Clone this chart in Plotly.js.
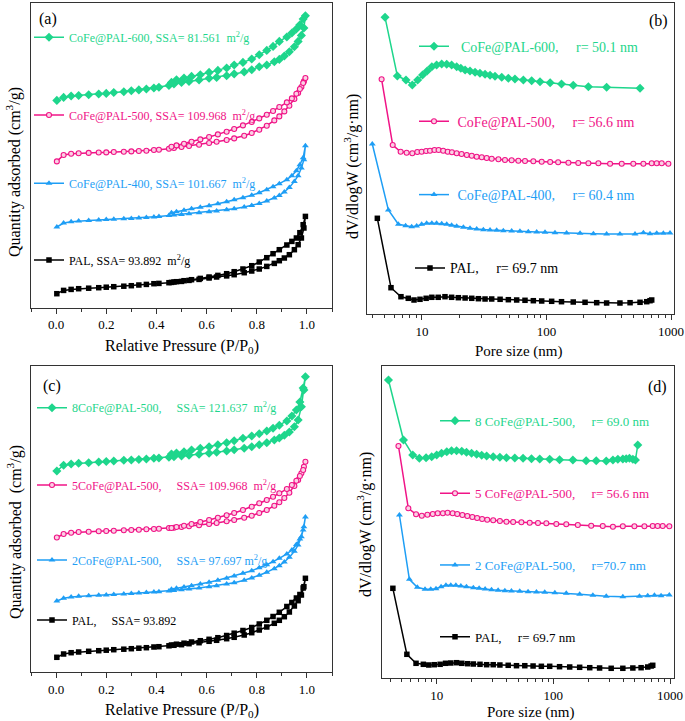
<!DOCTYPE html>
<html>
<head>
<meta charset="utf-8">
<script src="https://cdn.plot.ly/plotly-3.0.1.min.js"></script>
<style>html,body{margin:0;padding:0;background:#fff;}#chart{width:685px;height:721px;}</style>
</head>
<body>
<div id="chart"></div>
<script>
// ---------- DATA ----------
// Isotherm relative pressures (adsorption branch up, desorption branch down)
const adsP = [0.003,0.03,0.06,0.09,0.13,0.17,0.20,0.23,0.27,0.30,0.33,0.36,0.39,0.41,0.45,0.47,0.50,0.53,0.57,0.61,0.64,0.68,0.71,0.75,0.78,0.81,0.84,0.87,0.89,0.91,0.93,0.95,0.965,0.978,0.988,0.994];
const desP = [0.985,0.972,0.958,0.94,0.92,0.89,0.865,0.84,0.81,0.78,0.745,0.71,0.68,0.645,0.61,0.575,0.54,0.51,0.48,0.46];

// Panel (a): quantity adsorbed (offset, arbitrary units)
const a600Ads = [207.3,210.3,211.7,212.2,213,213.7,214.3,215.2,216,217,217.8,218.7,219.7,220.5,222.2,223.7,225.3,226.3,227.8,229.5,230.3,232,233.8,235.8,238,241,242.7,246,248.3,251.7,256,261,266.3,272.3,279.7,292];
const a600Des = [288.7,283,278.7,274.7,270.7,266.3,261.3,257.3,253,248.7,245.3,242.7,239.7,237.3,235.3,233,231.3,229.7,228,225.3];
const a500Ads = [146.3,152.7,154,154.5,154.8,155.2,155.3,155.7,156,156.3,156.7,157,157.7,158,159,159.7,160.7,161.7,163,164.7,166,167.7,169.3,172,174.7,178,182,187.3,191.3,196.3,202,208.7,214.7,220.7,226.3,229.7];
const a500Des = [224.7,218.7,214,209.3,205.3,200.7,196.7,193,189.3,185.7,182.3,178.7,176,173.3,170.7,168.3,166,164,162.3,161];
const a400Ads = [80.7,84.7,86,86.7,87.3,87.8,88.2,88.5,89,89.3,89.8,90.3,90.8,91.3,92.2,92.7,93.3,94,95,96,96.8,98,99,100.7,102.3,104.3,106.7,109.7,112.3,115.7,120.3,126.3,132,139.7,148,162];
const a400Des = [150,143,137,132,128,124,121,118,115,112.5,110,108,106,104,102,100.5,99,97.5,96,95];
const aPalAds = [14,17.3,18.3,19,19.5,20,20.5,21,21.5,22,22.7,23.3,24,24.3,25,25.7,26.3,27.3,28.3,29.7,30.7,31.8,33,35,36.7,38.7,41.3,44.3,47,49.7,53,58,63,69.7,79.7,91.3];
const aPalDes = [83,75,69.7,66.3,62.7,58,54,50,45.7,42,38.7,36,34,32.3,30.7,29.3,28,27,26,25.3];

// Panel (c)
const c8Ads = [201,206.7,208,208.7,209.3,210,210.5,211,211.7,212,212.5,213,213.7,214,214.8,215.3,216,216.7,217.7,218.8,219.7,221,222.2,223.7,225.3,227.3,229.3,232,234,236.7,240,245.3,252,265.3,282,295.3];
const c8Des = [284,270,262,256,251,246.7,243.7,241,238.3,236,233.7,231.3,229.3,227.3,225.3,223.7,222,220.3,219,218];
const c5Ads = [134.5,138,139.3,140,140.3,140.7,141,141.3,141.7,142,142.3,142.7,143,143.3,144,144.3,145,145.7,146.7,148,149,150.7,152,154.3,156.3,159,162,166.3,169.7,174,179.3,186,192,198.7,205.3,210.3];
const c5Des = [202,196,191.3,187,183,178.7,175.3,172,168.7,165.3,162,159,156.7,154.3,152,150,148,146.3,145,144];
const c2Ads = [71,73.7,75,75.7,76.2,76.7,77,77.5,78,78.5,79,79.5,80,80.3,81,81.5,82.2,83,84,85.3,86.3,88,89.3,91.7,94,96.7,99.7,103.3,106.3,110,114.7,120.7,127,135.3,145.3,155];
const c2Des = [142,133,127.5,122,118,113.7,110.3,107.3,104.3,101.3,98.7,96,93.7,91.7,89.7,88,86.3,85,83.7,82.7];
const cPalAds = [14.7,18,19.3,20,20.7,21.3,21.8,22.3,22.8,23.3,23.8,24.3,25,25.3,26.2,26.7,27.3,28.3,29.3,30.7,31.7,33.3,34.7,37,39.3,42,45,48.7,51.7,55.3,60,66,71.3,77,85.3,93.7];
const cPalDes = [84,77.5,74,69.5,65.5,59.7,55.5,51.7,48,44.5,41.5,38.8,36.5,34.3,32.7,31.3,30,28.8,27.8,27];

// Panel (b): pore size distributions (nm, offset dV/dlogW)
const b600X = [5.05,6.34,7.44,8.36,9.23,10.1,11.0,12.0,13.1,14.4,15.8,17.3,19.0,20.5,22.2,24.3,26.7,29.2,32.1,35.2,38.6,43.7,49.4,55.8,65.2,76.0,88.7,107,132,164,217,304,564];
const b600Y = [296.7,238,234,229,234,239,243,247.3,249,250,249.7,249,247.3,245.7,244,243,241.7,240.7,239.7,238.7,237.7,236.7,235.7,235,234,233.3,232.3,231.3,230,228.7,227.3,226.7,225.7];
const b500X = [4.74,5.82,6.74,7.53,8.36,9.17,9.94,10.8,11.6,12.6,13.6,14.8,16.1,17.4,19.0,20.8,22.9,25.1,27.5,30.2,33.1,36.3,41.1,46.4,52.5,59.4,67.2,78.4,91.5,107,124,150,180,217,261,324,402,498,600,700,768,842,952];
const b500Y = [234.7,169,162.3,161.3,160.7,162,162.3,163,163.3,164,164,163.3,162.3,161.7,160.7,160,159,158.3,157.3,156.7,156,155.3,154.7,154,153.7,153.3,153,152.7,152.3,152,151.7,151.3,151,150.7,150.7,150.3,150.3,150.3,150.3,150.7,150.7,150.7,150.3];
const b400X = [3.99,5.37,6.46,7.39,8.26,9.06,9.94,10.9,12.0,13.1,14.4,15.8,17.3,19.0,21.5,24.3,27.5,31.1,35.2,39.8,45.0,52.5,61.2,71.4,83.4,97.3,117,145,186,238,304,389,514,600,678,768,868,982];
const b400Y = [170,104,89.7,88.3,87.3,88,89.7,90.7,90.7,90.7,90.3,89.7,88.7,87.7,86.7,85.7,85,84.3,84,83.7,83.3,83,82.7,82.3,82,81.7,81.3,81,80.7,80.3,80,80,80,81.3,80.3,80.7,80.7,81];
const bPalX = [4.38,5.64,6.78,7.76,8.63,9.64,10.8,12.0,13.5,15.3,17.3,19.6,22.2,25.1,28.4,32.1,36.3,42.4,49.4,57.6,67.2,78.4,91.5,110,132,164,204,253,304,389,469,564,638,678,700];
const bPalY = [95.7,26.3,17.3,15.7,14,14.7,15.7,16.7,16.7,17.3,16.7,16.3,16,15.7,15.3,15,15,14.7,14.3,14,13.7,13.3,13,12.7,12.3,12,11.7,11.3,11,11,11.3,11.7,12.3,13.3,14];

// Panel (d)
const d8X = [3.86,5.19,6.23,7.10,8.11,9.06,10.0,11.0,12.2,13.4,14.8,16.4,18.0,19.9,22.0,24.3,26.8,30.5,34.8,39.6,46.7,55.0,64.9,76.4,93.0,113,147,191,233,284,324,357,394,421,449,480,505,529];
const d8Y = [298,238,223,219.7,220.3,221.3,223,224.7,226.3,227.3,227.3,226.7,225.7,224.7,223.7,222.7,222,221.3,220.7,220.3,220,219.7,219.3,219,218.7,218.3,218,217.3,217.3,217,218,218.7,219,219.3,219.7,218.7,218,233];
const d5X = [4.70,5.71,6.65,7.45,8.32,9.25,10.2,11.3,12.4,13.7,15.0,16.6,18.3,20.2,22.2,24.5,27.1,30.5,34.8,39.6,45.2,53.2,62.7,73.8,87.0,106,129,162,211,265,324,394,495,603,710,783,865,986];
const d5Y = [232,169.7,163.7,162.3,163.3,164,164.7,164.7,165.3,164.7,164,163,162,161,160,159,158.3,157.7,157,156.3,156,155.7,155.3,155,154.7,154,153.7,153,152.3,152,151.3,151.7,151.7,151.7,152,152,152,151.7];
const d2X = [4.79,5.83,6.82,7.94,8.89,9.86,10.9,12.0,13.2,14.6,16.1,18.0,20.6,23.1,26.0,29.5,33.6,38.4,43.7,51.5,60.7,71.6,84.3,103,129,168,218,284,394,547,644,735,838,986];
const d2Y = [163,98.7,90.7,88.7,88.7,89.3,91.3,92.7,92.7,92.7,92,91.3,90.3,89.7,89,88.3,87.7,87.3,87,86.7,86.3,86,85.7,85.3,84.7,83.7,82.7,81.7,81.3,81.7,82.3,82.7,82.3,83];
const dPalX = [4.21,5.55,6.65,7.68,8.55,9.53,10.7,11.9,13.2,14.8,16.4,18.4,20.6,23.5,26.8,30.5,34.8,41.0,48.3,56.9,67.0,78.9,93.0,113,138,168,205,249,313,394,480,565,644,689,711];
const dPalY = [89.7,23.7,14.7,13.7,13,13.3,13.7,14.7,15,15.3,14.7,14.3,14,13.7,13.3,13.3,13,12.7,12.3,12.3,12,11.7,11.7,11.3,11,10.7,10.3,10,9.7,9.7,10,10.3,11,12,12.7];

// Labels
const NB = '\u00a0';
const sp = n => NB.repeat(n);
const namesA = ['CoFe@PAL-600, SSA= 81.561'+sp(2)+'m<sup>2</sup>/g','CoFe@PAL-500, SSA= 109.968'+sp(2)+'m<sup>2</sup>/g','CoFe@PAL-400, SSA= 101.667'+sp(2)+'m<sup>2</sup>/g','PAL, SSA= 93.892'+sp(2)+'m<sup>2</sup>/g'];
const namesB = [sp(2)+'CoFe@PAL-600,'+sp(5)+'r= 50.1 nm',sp(1)+'CoFe@PAL-500,'+sp(5)+'r= 56.6 nm',sp(1)+'CoFe@PAL-400,'+sp(5)+'r= 60.4 nm','PAL,'+sp(5)+'r= 69.7 nm'];
const namesC = ['8CoFe@PAL-500,'+sp(5)+'SSA= 121.637'+sp(2)+'m<sup>2</sup>/g','5CoFe@PAL-500,'+sp(5)+'SSA= 109.968'+sp(2)+'m<sup>2</sup>/g','2CoFe@PAL-500,'+sp(5)+'SSA= 97.697 m<sup>2</sup>/g','PAL,'+sp(5)+'SSA= 93.892'];
const namesD = ['8 CoFe@PAL-500,'+sp(5)+'r= 69.0 nm','5 CoFe@PAL-500,'+sp(5)+'r= 56.6 nm','2 CoFe@PAL-500,'+sp(5)+'r=70.7 nm','PAL,'+sp(5)+'r= 69.7 nm'];

// ---------- STYLE ----------
const FONT = 'Liberation Serif';
const GREEN = '#1ED68C', PINK = '#F01487', BLUE = '#1E9EF5', BLACK = '#000000';
const styles = [
  {color: GREEN, symbol: 'diamond', size: 7, fill: GREEN},
  {color: PINK, symbol: 'circle', size: 5, fill: '#FBD0E4'},
  {color: BLUE, symbol: 'triangle-up', size: 6, fill: BLUE},
  {color: BLACK, symbol: 'square', size: 5.5, fill: BLACK}
];

const W = 685, H = 721;
const traces = [];
let legendIdx = 0;
const layout = {
  width: W, height: H, margin: {l: 0, r: 0, t: 0, b: 0},
  paper_bgcolor: '#fff', plot_bgcolor: '#fff', showlegend: true,
  font: {family: FONT, color: '#000', size: 13},
  annotations: []
};
function legName(){ legendIdx++; return legendIdx === 1 ? 'legend' : 'legend' + legendIdx; }

function addTrace(x, y, st, xa, ya, name, legPos, fsize){
  const ln = legName();
  traces.push({
    x: x, y: y, xaxis: xa, yaxis: ya, name: name, legend: ln,
    type: 'scatter', mode: 'lines+markers', cliponaxis: false,
    line: {color: st.color, width: 1.5},
    marker: {symbol: st.symbol, size: st.size, color: st.fill, line: {color: st.color, width: st.fill === st.color ? 0 : 1.1}}
  });
  layout[ln] = {
    x: (legPos[0] - 6) / W, y: 1 - legPos[1] / H, xanchor: 'left', yanchor: 'middle',
    bgcolor: 'rgba(0,0,0,0)', borderwidth: 0, itemwidth: 30,
    font: {family: FONT, size: fsize, color: st.color}
  };
}

const isoA = [[a600Ads,a600Des],[a500Ads,a500Des],[a400Ads,a400Des],[aPalAds,aPalDes]];
const isoC = [[c8Ads,c8Des],[c5Ads,c5Des],[c2Ads,c2Des],[cPalAds,cPalDes]];
const psdB = [[b600X,b600Y],[b500X,b500Y],[b400X,b400Y],[bPalX,bPalY]];
const psdD = [[d8X,d8Y],[d5X,d5Y],[d2X,d2Y],[dPalX,dPalY]];
const legA = [[35,37.3],[35,115],[35,183.3],[35,260]];
const legB = [[420,46.7],[420,121.7],[420,195],[416,268.3]];
const legC = [[38,407.7],[38,485],[38,560],[38,620]];
const legD = [[441,420.7],[441,493.3],[441,565],[441,636.7]];
const Pxy = adsP.concat(desP);
for (let i = 0; i < 4; i++) addTrace(Pxy, isoA[i][0].concat(isoA[i][1]), styles[i], 'x', 'y', namesA[i], legA[i], 12);
for (let i = 0; i < 4; i++) addTrace(psdB[i][0], psdB[i][1], styles[i], 'x2', 'y2', namesB[i], legB[i], 14);
for (let i = 0; i < 4; i++) addTrace(Pxy, isoC[i][0].concat(isoC[i][1]), styles[i], 'x3', 'y3', namesC[i], legC[i], 12);
for (let i = 0; i < 4; i++) addTrace(psdD[i][0], psdD[i][1], styles[i], 'x4', 'y4', namesD[i], legD[i], 13);

// ---------- AXES ----------
const fx = px => px / W, fy = py => 1 - py / H;
const TF = {family: FONT, size: 13, color: '#000'};
function linX(dom, anchor){
  return {domain: dom, anchor: anchor, range: [-0.1, 1.1], showgrid: false, zeroline: false,
    showline: true, linecolor: '#333', linewidth: 1, mirror: true,
    ticks: 'outside', ticklen: 5, tickwidth: 1, tickcolor: '#333', tick0: 0, dtick: 0.2, tickformat: '.1f',
    minor: {ticks: 'outside', ticklen: 3, tickwidth: 1, tickcolor: '#333', dtick: 0.1, showgrid: false},
    tickfont: TF};
}
function logX(dom, anchor, rng){
  return {domain: dom, anchor: anchor, type: 'log', range: rng, showgrid: false, zeroline: false,
    showline: true, linecolor: '#333', linewidth: 1, mirror: true,
    ticks: 'outside', ticklen: 5, tickwidth: 1, tickcolor: '#333',
    tickmode: 'array', tickvals: [10, 100, 1000], ticktext: ['10', '100', '1000'],
    minor: {ticks: 'outside', ticklen: 3, tickwidth: 1, tickcolor: '#333', showgrid: false, tickmode: 'array',
      tickvals: [4,5,6,7,8,9,20,30,40,50,60,70,80,90,200,300,400,500,600,700,800,900]},
    tickfont: TF};
}
function yAx(dom, anchor, top){
  return {domain: dom, anchor: anchor, range: [0, top], showgrid: false, zeroline: false,
    showline: true, linecolor: '#333', linewidth: 1, mirror: true, ticks: '', showticklabels: false};
}
layout.xaxis = linX([fx(31), fx(332)], 'y');
layout.yaxis = yAx([fy(307.7), fy(2.7)], 'x', 305);
layout.xaxis2 = logX([fx(366.7), fx(674)], 'y2', [0.556, 3.024]);
layout.yaxis2 = yAx([fy(314), fy(2.7)], 'x2', 311.3);
layout.xaxis3 = linX([fx(31), fx(332)], 'y3');
layout.yaxis3 = yAx([fy(672), fy(366)], 'x3', 306);
layout.xaxis4 = logX([fx(382), fx(674)], 'y4', [0.531, 3.034]);
layout.yaxis4 = yAx([fy(678), fy(366)], 'x4', 312);

// ---------- TEXT ----------
function ann(text, px, py, size, angle){
  layout.annotations.push({text: text, x: px / W, y: 1 - py / H, xref: 'paper', yref: 'paper',
    xanchor: 'center', yanchor: 'middle', showarrow: false, textangle: angle || 0,
    font: {family: FONT, size: size, color: '#000'}});
}
ann('(a)', 48, 19, 16); ann('(b)', 658, 21, 16); ann('(c)', 52, 386, 16); ann('(d)', 657, 387, 16);
ann('Relative Pressure (P/P<sub>0</sub>)', 182, 346, 16);
ann('Pore size (nm)', 518, 351, 15);
ann('Relative Pressure (P/P<sub>0</sub>)', 182, 710, 16);
ann('Pore size (nm)', 530, 712, 15);
ann('Quantity adsorbed (cm<sup>3</sup>/g)', 13, 172, 16, -90);
ann('dV/dlogW (cm<sup>3</sup>/g·nm)', 351, 167, 16, -90);
ann('Quantity adsorbed'+sp(2)+'(cm<sup>3</sup>/g)', 14, 532, 16, -90);
ann('dV/dlogW (cm<sup>3</sup>/g·nm)', 364, 525, 16, -90);

Plotly.newPlot('chart', traces, layout, {displayModeBar: false, staticPlot: true});
</script>
</body>
</html>
